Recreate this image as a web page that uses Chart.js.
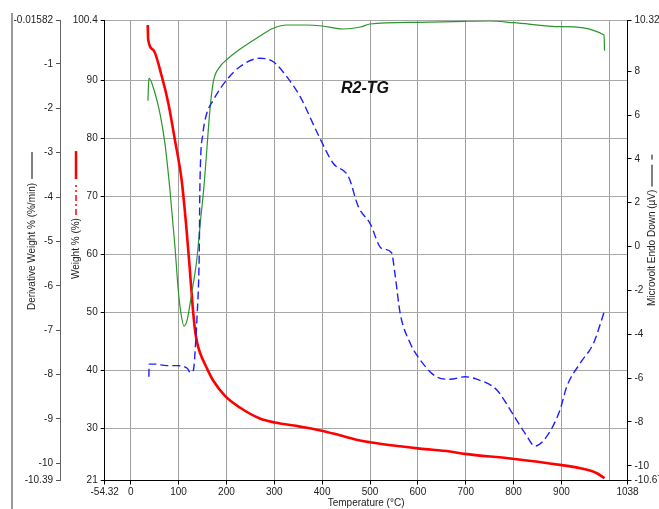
<!DOCTYPE html>
<html>
<head>
<meta charset="utf-8">
<script src="https://cdn.jsdelivr.net/npm/chart.js@4.4.1/dist/chart.umd.min.js"></script>
<style>
  html, body { margin: 0; padding: 0; background: #fff; }
  #wrap { width: 659px; height: 509px; }
</style>
</head>
<body>
<div id="wrap"><canvas id="chart" width="659" height="509"></canvas></div>
<script>
// Weight % (red, left inner axis)
const weightTemp = [35.6, 36.5, 47, 65, 78.6, 92.5, 106.5, 115.5, 122.5, 129.5, 134.3, 139, 145, 159, 172, 197, 228, 270, 301.5, 354, 399, 437, 479, 500, 563, 604, 667, 698, 793, 897, 940, 973, 990];
const weightPct = [99.6, 97.1, 95.3, 90.7, 86.1, 79.7, 72.8, 65.4, 58.5, 51.0, 47.0, 44.7, 43.0, 40.4, 38.3, 35.6, 33.6, 31.7, 31.0, 30.3, 29.6, 28.8, 27.9, 27.6, 26.9, 26.5, 26.0, 25.6, 24.8, 23.7, 23.1, 22.3, 21.4];

// Derivative weight %/min (green, left outer axis)
const derivTemp = [36, 38, 50.8, 61, 71.5, 82, 92.5, 99.4, 105, 111.4, 118, 127.4, 138, 146, 153, 159, 165.5, 172.6, 186.5, 200, 228, 263, 298, 326, 367, 400, 444, 480, 500, 600, 700, 750, 800, 900, 989, 990];
const derivVals = [-1.83, -1.32, -1.66, -2.11, -2.79, -3.84, -5.12, -6.1, -6.62, -6.91, -6.77, -6.17, -5.42, -4.52, -3.77, -2.94, -2.04, -1.40, -1.06, -0.91, -0.67, -0.42, -0.196, -0.122, -0.122, -0.144, -0.212, -0.167, -0.099, -0.061, -0.038, -0.032, -0.070, -0.160, -0.347, -0.701];

// Microvolt endo down (blue dashed, right axis)
const uvTemp = [38, 38.5, 50.8, 75, 96, 118, 125, 131, 136, 139, 142, 143.4, 144.5, 151, 157, 172.6, 200.5, 228, 270, 298, 326, 354, 392, 423, 455, 475.6, 500, 524, 545, 552, 563, 584, 600, 639, 667, 698.5, 723, 765, 793, 824, 845, 869, 897, 911, 939, 967, 990];
const uvVals = [-5.94, -5.36, -5.36, -5.43, -5.43, -5.55, -5.75, -5.63, -4.26, -3.04, -1.52, -0.01, 2.65, 5.17, 5.92, 6.68, 7.60, 8.20, 8.59, 8.43, 7.75, 6.84, 5.09, 3.80, 3.19, 1.82, 1.06, -0.08, -0.28, -1.22, -3.04, -4.41, -5.02, -5.94, -6.05, -5.94, -6.05, -6.54, -7.45, -8.52, -9.10, -8.67, -7.45, -6.39, -5.32, -4.41, -2.93];

// tick values
const xTicks = [-54.32, 0, 100, 200, 300, 400, 500, 600, 700, 800, 900, 1000, 1038];
const weightTicks = [21, 30, 40, 50, 60, 70, 80, 90, 100.4];
const derivTicks = [-10.39, -10, -9, -8, -7, -6, -5, -4, -3, -2, -1, -0.01582];
const uvTicks = [-10.67, -10, -8, -6, -4, -2, 0, 2, 4, 6, 8, 10.32];

const toPoints = (xs, ys) => xs.map((x, i) => ({ x: x, y: ys[i] }));
const tickFont = { family: "'Liberation Sans', Arial, sans-serif", size: 10 };

Chart.defaults.font.family = "'Liberation Sans', Arial, sans-serif";
Chart.defaults.color = '#222';

// Draw a rotated axis title (bottom to top) followed by line samples
function verticalTitle(ctx, x, yBottom, text, samples) {
    ctx.save();
    ctx.translate(x, yBottom);
    ctx.rotate(-Math.PI / 2);
    ctx.font = "10px 'Liberation Sans', Arial, sans-serif";
    ctx.fillStyle = '#222';
    ctx.textAlign = 'left';
    ctx.textBaseline = 'middle';
    ctx.fillText(text, 0, 0);
    let pos = ctx.measureText(text).width;
    samples.forEach(s => {
        pos += s.gap;
        ctx.beginPath();
        ctx.strokeStyle = s.color;
        ctx.lineWidth = s.width;
        ctx.setLineDash(s.dash || []);
        ctx.moveTo(pos, 0);
        ctx.lineTo(pos + s.len, 0);
        ctx.stroke();
        pos += s.len;
    });
    ctx.restore();
}

const decorPlugin = {
    id: 'decor',
    afterDraw(chart) {
        const ctx = chart.ctx;
        const area = chart.chartArea;
        ctx.save();
        // frame line on far left
        ctx.beginPath();
        ctx.strokeStyle = '#9a9a9a';
        ctx.lineWidth = 2;
        ctx.moveTo(12, 13);
        ctx.lineTo(12, 509);
        ctx.stroke();

        verticalTitle(ctx, 32, 310, 'Derivative Weight % (%/min)', [
            { gap: 4, len: 27, color: '#000', width: 1 }
        ]);
        verticalTitle(ctx, 76, 279, 'Weight % (%)', [
            { gap: 3, len: 30, color: '#ff0000', width: 1.5, dash: [6, 3, 2, 3] },
            { gap: 6, len: 28, color: '#ff0000', width: 2.5 }
        ]);
        verticalTitle(ctx, 652, 306, 'Microvolt Endo Down (µV)', [
            { gap: 3, len: 22, color: '#000', width: 1 },
            { gap: 5, len: 5, color: '#000', width: 1 }
        ]);

        // chart title inside plot
        ctx.font = "italic bold 16px 'Liberation Sans', Arial, sans-serif";
        ctx.fillStyle = '#111';
        ctx.textAlign = 'center';
        ctx.textBaseline = 'middle';
        ctx.fillText('R2-TG', 365, 89);
        ctx.restore();
    }
};

const ctx = document.getElementById('chart').getContext('2d');
new Chart(ctx, {
    type: 'line',
    data: {
        datasets: [
            {
                label: 'Microvolt',
                data: toPoints(uvTemp, uvVals),
                yAxisID: 'yU',
                borderColor: '#1f1fff',
                borderWidth: 1.4,
                borderDash: [8, 4],
                pointRadius: 0,
                fill: false,
                cubicInterpolationMode: 'monotone'
            },
            {
                label: 'Derivative Weight',
                data: toPoints(derivTemp, derivVals),
                yAxisID: 'yD',
                borderColor: '#2a952a',
                borderWidth: 1.2,
                pointRadius: 0,
                fill: false,
                cubicInterpolationMode: 'monotone'
            },
            {
                label: 'Weight',
                data: toPoints(weightTemp, weightPct),
                yAxisID: 'yW',
                borderColor: '#ff0000',
                borderWidth: 2.6,
                pointRadius: 0,
                fill: false,
                cubicInterpolationMode: 'monotone'
            }
        ]
    },
    options: {
        responsive: false,
        animation: false,
        layout: { padding: { top: 20.3, left: 0, right: 0, bottom: 0 } },
        plugins: {
            legend: { display: false },
            tooltip: { enabled: false }
        },
        scales: {
            x: {
                type: 'linear',
                position: 'bottom',
                min: -54.32,
                max: 1038,
                afterBuildTicks: s => { s.ticks = xTicks.map(v => ({ value: v })); },
                afterFit: s => { s.height = 28.5; },
                ticks: {
                    autoSkip: false,
                    maxRotation: 0,
                    padding: 2,
                    font: tickFont,
                    color: '#222',
                    callback: v => (v === 1000 ? '' : String(v))
                },
                grid: {
                    color: '#a0a0a0',
                    tickLength: 4,
                    tickColor: c => (c.tick && c.tick.value === 1000 ? 'rgba(0,0,0,0)' : '#000')
                },
                border: { color: '#000' },
                title: {
                    display: true,
                    text: 'Temperature (°C)',
                    font: tickFont,
                    color: '#222',
                    padding: 0
                }
            },
            yW: {
                type: 'linear',
                position: 'left',
                weight: 0,
                min: 21,
                max: 100.4,
                afterBuildTicks: s => { s.ticks = weightTicks.map(v => ({ value: v })); },
                afterFit: s => { s.width = 44.7; },
                ticks: { autoSkip: false, padding: 3, font: tickFont, color: '#222', callback: v => String(v) },
                grid: { color: '#a8a8a8', tickLength: 4, tickColor: '#000' },
                border: { color: '#000' }
            },
            yD: {
                type: 'linear',
                position: 'left',
                weight: 1,
                min: -10.39,
                max: -0.01582,
                afterBuildTicks: s => { s.ticks = derivTicks.map(v => ({ value: v })); },
                afterFit: s => { s.width = 60; },
                ticks: { autoSkip: false, padding: 3, font: tickFont, color: '#222', callback: v => String(v) },
                grid: { drawOnChartArea: false, tickLength: 4, tickColor: '#555' },
                border: { color: '#666' }
            },
            yU: {
                type: 'linear',
                position: 'right',
                min: -10.67,
                max: 10.32,
                afterBuildTicks: s => { s.ticks = uvTicks.map(v => ({ value: v })); },
                afterFit: s => { s.width = 31.5; },
                ticks: { autoSkip: false, padding: 3, font: tickFont, color: '#222', callback: v => String(v) },
                grid: { drawOnChartArea: false, tickLength: 4, tickColor: '#000' },
                border: { color: '#000' }
            }
        }
    },
    plugins: [decorPlugin]
});
</script>
</body>
</html>
